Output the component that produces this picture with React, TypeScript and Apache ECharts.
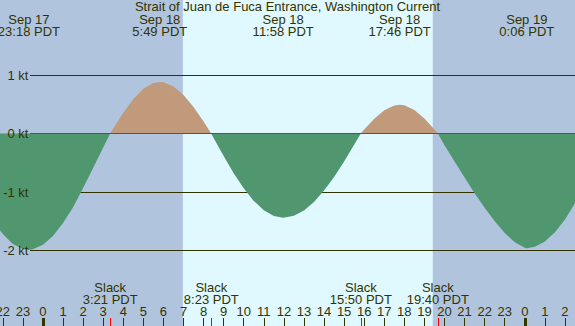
import React, { useEffect, useRef } from 'react';
import * as echarts from 'echarts';

const TITLE = 'Strait of Juan de Fuca Entrance, Washington Current';

// Hours relative to Sep 18 00:00 PDT, current speed in knots (flood +, ebb -)
const curveHours = [
  -2.5, -2, -1.5, -1, -0.7, -0.5, 0, 0.5, 1, 1.5, 2, 2.5, 3, 3.35, 3.5, 4, 4.5, 5, 5.5, 5.82,
  6, 6.5, 7, 7.5, 8, 8.38, 8.5, 9, 9.5, 10, 10.5, 11, 11.5, 11.97, 12.5, 13, 13.5, 14, 14.5, 15,
  15.5, 15.83, 16, 16.5, 17, 17.5, 17.77, 18, 18.5, 19, 19.5, 19.67, 20, 20.5, 21, 21.5, 22, 22.5,
  23, 23.5, 24, 24.1, 24.5, 25, 25.5, 26, 26.5, 27,
];
const currentKnots = [
  -1.48, -1.72, -1.89, -1.975, -1.99, -1.98, -1.9, -1.75, -1.53, -1.26, -0.93, -0.59, -0.24, 0, 0.084, 0.354, 0.588, 0.763, 0.862, 0.88,
  0.875, 0.805, 0.659, 0.453, 0.203, 0, -0.076, -0.386, -0.678, -0.937, -1.152, -1.313, -1.41, -1.44, -1.407, -1.315, -1.17, -0.976, -0.743, -0.478,
  -0.193, 0, 0.067, 0.253, 0.398, 0.478, 0.49, 0.481, 0.403, 0.258, 0.069, 0, -0.2, -0.48, -0.75, -1.02, -1.27, -1.5,
  -1.7, -1.86, -1.955, -1.96, -1.937, -1.846, -1.688, -1.468, -1.194, -0.9,
];

const extremeDates = ['Sep 17', 'Sep 18', 'Sep 18', 'Sep 18', 'Sep 19'];
const extremeTimes = ['23:18', '5:49', '11:58', '17:46', '0:06'];
const extremeDayOffsets = [-1, 0, 0, 0, 1];

const slackTimes = ['3:21', '8:23', '15:50', '19:40'];
const sunTimes = ['6:58', '19:25'];

const hourTicks = [-2, -1, 0, 1, 2, 3, 4, 5, 6, 7, 8, 9, 10, 11, 12, 13, 14, 15, 16, 17, 18, 19, 20, 21, 22, 23, 24, 25, 26];
const midnightTicks = [0, 24];

const X_MIN = -2.14;
const X_MAX = 26.5;

const NIGHT = '#b0c4de';
const DAY = '#e0f8ff';
const EBB = '#50966f';
const FLOOD = '#c09a7a';
const INK = '#333300';
const FONT = 'Liberation Sans';

const toHours = (t: string, dayOffset = 0) => {
  const [h, m] = t.split(':').map(Number);
  return dayOffset * 24 + h + m / 60;
};

const extremeHours = extremeTimes.map((t, i) => toHours(t, extremeDayOffsets[i]));
const slackHours = slackTimes.map((t) => toHours(t));
const sunHours = sunTimes.map((t) => toHours(t));

const findIndex = (arr: number[], v: number) => {
  let best = 0;
  for (let i = 0; i < arr.length; i++) if (Math.abs(arr[i] - v) < Math.abs(arr[best] - v)) best = i;
  return best;
};

const baseX = (gridIndex: number) => ({
  gridIndex,
  type: 'value' as const,
  min: X_MIN,
  max: X_MAX,
  axisLine: { show: false, onZero: false },
  splitLine: { show: false },
});

export default function App() {
  const ref = useRef<HTMLDivElement>(null);
  useEffect(() => {
    if (!ref.current) return;
    const chart = echarts.init(ref.current, undefined, { renderer: 'svg' });
    const textBase = { color: INK, fontFamily: FONT, fontSize: 13 };
    chart.setOption({
      animation: false,
      backgroundColor: NIGHT,
      grid: [
        { left: 30, right: 0, top: 75, height: 175.5, outerBoundsMode: 'none', containLabel: false },
        { left: 0, right: 0, top: 75, height: 175.5, outerBoundsMode: 'none', containLabel: false },
        { left: 0, right: 0, top: 0, bottom: 0, outerBoundsMode: 'none', containLabel: false },
      ],
      xAxis: [
        { gridIndex: 0, type: 'value', show: false, min: 0, max: 1, axisLine: { onZero: false } },
        { ...baseX(1), show: false },
        {
          ...baseX(2),
          position: 'bottom',
          z: 5,
          axisTick: { show: true, inside: true, length: 8, customValues: hourTicks, lineStyle: { color: INK, width: 1 } },
          axisLabel: {
            show: true,
            inside: true,
            customValues: hourTicks,
            margin: 14.2,
            align: 'center',
            verticalAlign: 'middle',
            ...textBase,
            formatter: (v: number) => String(((Math.round(v) % 24) + 24) % 24),
          },
        },
        {
          ...baseX(2),
          position: 'bottom',
          z: 5,
          axisTick: { show: true, inside: true, length: 8, customValues: midnightTicks, lineStyle: { color: INK, width: 3 } },
          axisLabel: { show: false },
        },
        {
          ...baseX(2),
          position: 'bottom',
          z: 5,
          axisTick: { show: true, inside: true, length: 8, customValues: slackHours, lineStyle: { color: '#ff0000', width: 1 } },
          axisLabel: {
            show: true,
            inside: true,
            customValues: slackHours,
            margin: 32.5,
            align: 'center',
            verticalAlign: 'middle',
            lineHeight: 12.4,
            ...textBase,
            formatter: (v: number) => 'Slack\n' + slackTimes[findIndex(slackHours, v)] + ' PDT',
          },
        },
        {
          ...baseX(2),
          position: 'top',
          z: 5,
          axisTick: { show: false },
          axisLabel: {
            show: true,
            inside: true,
            customValues: extremeHours,
            margin: 25.2,
            align: 'center',
            verticalAlign: 'middle',
            lineHeight: 12.4,
            ...textBase,
            formatter: (v: number) => {
              const i = findIndex(extremeHours, v);
              return extremeDates[i] + '\n' + extremeTimes[i] + ' PDT';
            },
          },
        },
      ],
      yAxis: [
        {
          gridIndex: 0,
          type: 'value',
          min: -2,
          max: 1,
          interval: 1,
          z: 2,
          axisLine: { show: false, onZero: false },
          axisTick: { show: false },
          axisLabel: { show: false },
          splitLine: { show: true, lineStyle: { color: INK, width: 1 } },
        },
        {
          gridIndex: 0,
          type: 'value',
          position: 'left',
          min: -2,
          max: 1,
          interval: 1,
          z: 6,
          axisLine: { show: false, onZero: false },
          axisTick: { show: false },
          splitLine: { show: false },
          axisLabel: { show: true, margin: 1.5, ...textBase, formatter: (v: number) => v + ' kt' },
        },
        { gridIndex: 1, type: 'value', show: false, min: -2, max: 1, axisLine: { onZero: false } },
        { gridIndex: 2, type: 'value', show: false, min: 0, max: 1, axisLine: { onZero: false } },
      ],
      visualMap: {
        type: 'piecewise',
        show: false,
        seriesIndex: 1,
        dimension: 1,
        pieces: [
          { min: -10, max: 0, color: EBB },
          { min: 0, max: 10, color: FLOOD },
        ],
      },
      series: [
        {
          type: 'line',
          xAxisIndex: 2,
          yAxisIndex: 3,
          data: sunHours.map((h) => [h, 1]),
          symbol: 'none',
          silent: true,
          z: 1,
          lineStyle: { width: 0, opacity: 0 },
          areaStyle: { color: DAY, opacity: 1 },
        },
        {
          type: 'line',
          xAxisIndex: 1,
          yAxisIndex: 2,
          data: curveHours.map((h, i) => [h, currentKnots[i]]),
          symbol: 'none',
          silent: true,
          z: 3,
          lineStyle: { width: 0, opacity: 0 },
          areaStyle: { opacity: 1 },
        },
      ],
      graphic: [
        {
          type: 'text',
          z: 10,
          x: 287.5,
          y: 6.8,
          style: {
            text: TITLE,
            fill: INK,
            font: `13px "${FONT}"`,
            align: 'center',
            verticalAlign: 'middle',
          },
        },
      ],
    });
    return () => chart.dispose();
  }, []);
  return <div ref={ref} style={{ position: 'fixed', left: 0, top: 0, width: 575, height: 326 }} />;
}
